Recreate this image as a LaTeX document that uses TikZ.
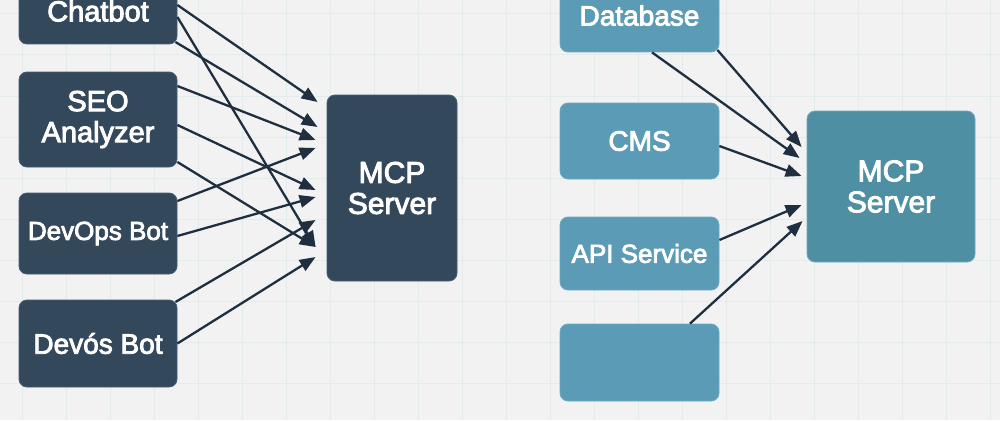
\documentclass[tikz,border=0pt]{standalone}
\usepackage{fontspec}
\setmainfont{Liberation Sans}[FakeBold=3]
\usetikzlibrary{arrows.meta}
\definecolor{bgc}{HTML}{F2F2F2}
\definecolor{gridc}{HTML}{E4EBEB}
\definecolor{darkbox}{HTML}{34485C}
\definecolor{darkedge}{HTML}{465C70}
\definecolor{tealbox}{HTML}{5B9BB6}
\definecolor{tealedge}{HTML}{6EAAC2}
\definecolor{tealsrv}{HTML}{4F8FA3}
\definecolor{arrowc}{HTML}{1F2F3F}
\newcommand{\fsz}[1]{\fontsize{#1}{31}\selectfont}
\tikzset{
  darknode/.style={draw=darkedge, line width=0.8pt, fill=darkbox, rounded corners=8pt, text=white,
    align=center, inner sep=0pt, font=\fsz{28}},
  tealnode/.style={draw=tealedge, line width=0.8pt, fill=tealbox, rounded corners=8pt, text=white,
    align=center, inner sep=0pt, font=\fsz{27}},
  flow/.style={draw=arrowc, line width=2.3pt, -{Triangle[length=16pt,width=12.5pt]}}
}
\begin{document}
\begin{tikzpicture}[x=1pt,y=-1pt]
\useasboundingbox (0,0) rectangle (1000,420);
\begin{scope}
\clip (0,0) rectangle (1000,420);
\fill[bgc] (0,0) rectangle (1000,420);
\foreach \gx in {22,66,...,990} \draw[gridc, line width=1pt] (\gx,0) -- (\gx,420);
\foreach \gy in {14,55,...,420} \draw[gridc, line width=1pt] (0,\gy) -- (1000,\gy);

% left group
\node[darknode, minimum width=158pt, minimum height=66pt, font=\fsz{29}] (chat) at (98,11) {Chatbot};
\node[darknode, minimum width=158pt, minimum height=95pt, font=\fsz{29}] (seo) at (98,119.5) {SEO\\Analyzer};
\node[darknode, minimum width=158pt, minimum height=81pt, font=\fsz{26}] (devops) at (98,233.5) {DevOps Bot};
\node[darknode, minimum width=158pt, minimum height=87pt, font=\fsz{28}] (devos) at (98,343.5) {Devós Bot};
\node[darknode, minimum width=130pt, minimum height=186pt, font=\fsz{30}] (mcpL) at (392,188) {MCP\\Server};

\draw[flow] ([shift={(0,-6)}]chat.east) -- ([shift={(-9,-86)}]mcpL.west);
\draw[flow] ([shift={(0,6)}]chat.east) -- ([shift={(-11,59)}]mcpL.west);
\draw[flow] ([shift={(-2,31)}]chat.east) -- ([shift={(-9,-61)}]mcpL.west);
\draw[flow] ([shift={(0,-33.5)}]seo.east) -- ([shift={(-11,-48)}]mcpL.west);
\draw[flow] ([shift={(0,5.5)}]seo.east) -- ([shift={(-11,2)}]mcpL.west);
\draw[flow] ([shift={(0,42.5)}]seo.east) -- ([shift={(-11,59)}]mcpL.west);
\draw[flow] ([shift={(0,-32.5)}]devops.east) -- ([shift={(-11,-40)}]mcpL.west);
\draw[flow] ([shift={(0,2.5)}]devops.east) -- ([shift={(-11,9)}]mcpL.west);
\draw[flow] ([shift={(-2,-41.5)}]devos.east) -- ([shift={(-11,32)}]mcpL.west);
\draw[flow] (devos.east) -- ([shift={(-11,69)}]mcpL.west);

% right group
\node[tealnode, minimum width=159pt, minimum height=73pt, font=\fsz{28}] (db) at (639.5,15.5) {Database};
\node[tealnode, minimum width=159pt, minimum height=76pt, font=\fsz{28}] (cms) at (639.5,141) {CMS};
\node[tealnode, minimum width=159pt, minimum height=73pt, font=\fsz{26}] (api) at (639.5,253.5) {API Service};
\node[tealnode, minimum width=159pt, minimum height=77pt] (empty) at (639.5,362.5) {};
\node[tealnode, fill=tealsrv, minimum width=168pt, minimum height=151pt, font=\fsz{30}] (mcpR) at (891,186.5) {MCP\\Server};

\draw[flow] ([shift={(-2,34.5)}]db.east) -- ([shift={(-5,-39.5)}]mcpR.west);
\draw[flow] ([shift={(12.5,0)}]db.south) -- ([shift={(-7,-28.5)}]mcpR.west);
\draw[flow] ([shift={(0,5)}]cms.east) -- ([shift={(-5,-10.5)}]mcpR.west);
\draw[flow] ([shift={(0,-13.5)}]api.east) -- ([shift={(-5,18.5)}]mcpR.west);
\draw[flow] ([shift={(50.5,0)}]empty.north) -- ([shift={(-4,34.5)}]mcpR.west);
\end{scope}
\end{tikzpicture}
\end{document}
